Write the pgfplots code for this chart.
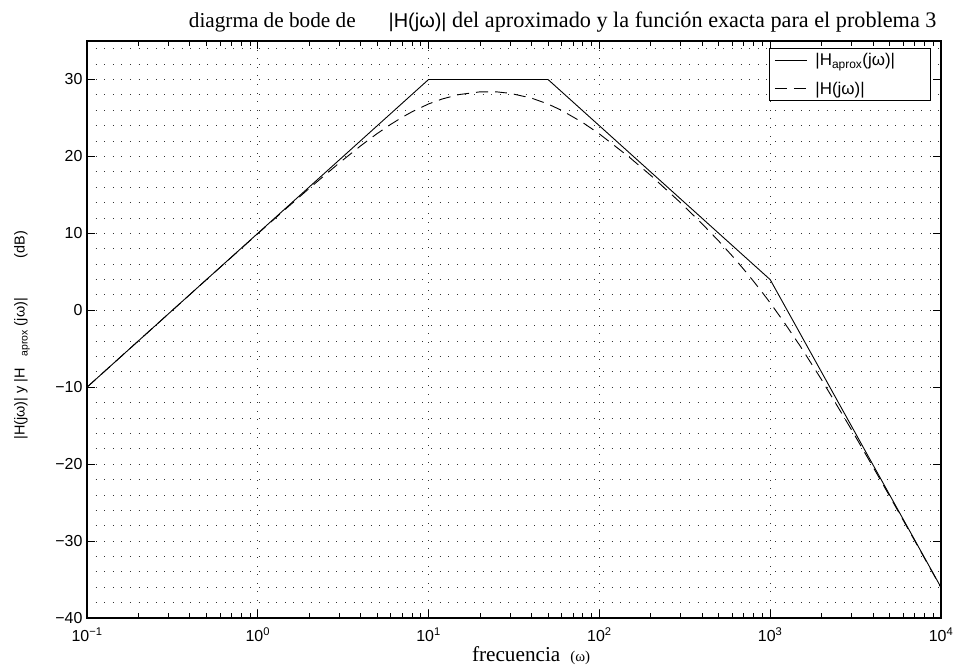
\documentclass[border=0pt]{standalone}
\usepackage{pgfplots}
\pgfplotsset{compat=1.18}
\usepackage{fontspec}
\setmainfont{Liberation Serif}
\setsansfont{Liberation Sans}

\begin{document}
\begin{tikzpicture}
\begin{axis}[
  at={(87bp,51bp)}, anchor=south west,
  scale only axis, width=854bp, height=577bp,
  xmode=log, log basis x=10,
  xmin=0.1, xmax=10000, ymin=-40, ymax=35,
  xtick={0.1,1,10,100,1000,10000},
  xticklabels={10\textsuperscript{−1},10\textsuperscript{0},10\textsuperscript{1},10\textsuperscript{2},10\textsuperscript{3},10\textsuperscript{4}},
  minor xtick={0.2,0.3,0.4,0.5,0.6,0.7,0.8,0.9,2,3,4,5,6,7,8,9,20,30,40,50,60,70,80,90,200,300,400,500,600,700,800,900,2000,3000,4000,5000,6000,7000,8000,9000},
  ytick={-40,-30,-20,-10,0,10,20,30},
  yticklabels={−40,−30,−20,−10,0,10,20,30},
  minor ytick={-38,-36,-34,-32,-28,-26,-24,-22,-18,-16,-14,-12,-8,-6,-4,-2,2,4,6,8,12,14,16,18,22,24,26,28,32,34},
  xmajorgrids=true, xminorgrids=false,
  ymajorgrids=true, yminorgrids=true,
  major grid style={draw=black!80, line width=0.8bp, dash pattern=on 0.8bp off 7.8bp},
  minor grid style={draw=black!80, line width=0.8bp, dash pattern=on 0.8bp off 7.8bp},
  minor y tick style={draw=none},
  tick align=inside,
  major tick length=8bp, minor tick length=5bp,
  tick style={black, line width=0.8bp},
  axis line style={line width=1.2bp},
  ticklabel style={font=\sffamily\fontsize{16}{18}\selectfont},
  xticklabel style={yshift=-6bp},
  yticklabel style={xshift=-1bp},
  title={{\fontsize{21.3}{24}\selectfont diagrma de bode de\hspace{33bp}{\sffamily\fontsize{20}{22}\selectfont |H(jω)|}{\fontsize{22.3}{24}\selectfont\ del aproximado y la función exacta para el problema 3}}},
  every axis title/.style={at={(0.557,1)}, anchor=south, inner sep=0pt, yshift=9bp},
  xlabel={{\fontsize{21.3}{24}\selectfont frecuencia\hspace{10bp}{\fontsize{15}{17}\selectfont (ω)}}},
  every axis x label/.style={at={(0.52,0)}, anchor=north, inner sep=0pt, yshift=-28bp},
  ylabel={{\sffamily\fontsize{14.5}{16}\selectfont |H(jω)| y |H\hspace{12bp}\raisebox{-3bp}{\fontsize{10.5}{12}\selectfont aprox}\hspace{4bp}(jω)|\hspace{40bp}(dB)}},
  every axis y label/.style={at={(-0.076,0.49)}, rotate=90, anchor=center, inner sep=0pt},
  legend style={at={(0.988,0.988)}, anchor=north east, draw=black, line width=0.8bp, fill=white,
    font=\sffamily\fontsize{17}{19}\selectfont, inner xsep=5bp, inner ysep=3bp, row sep=11bp},
  legend cell align=left,
  legend image code/.code={\draw[#1] (0bp,0bp) -- (32bp,0bp);},
]
\addplot[black, line width=0.9bp] coordinates {
  (0.1,-10) (10,30) (50,30) (1000,3.98) (10000,-36.02)
};
\addlegendentry{\makebox[114bp][l]{\hspace{6bp}|H\textsubscript{\fontsize{12}{12}\selectfont aprox}(jω)|}}
\addplot[black, line width=0.9bp, dash pattern=on 12bp off 7bp] coordinates {
  (0.1,-10.00) (0.2,-3.98) (0.5,3.97) (1,9.96) (1.5,13.42) (2,15.84) (3,19.15)
  (4,21.37) (5,22.97) (6,24.16) (7,25.08) (8,25.80) (10,26.82) (12,27.46)
  (15,28.03) (20,28.39) (25,28.39) (30,28.20) (40,27.58) (50,26.81) (60,25.99)
  (80,24.39) (100,22.92) (150,19.88) (200,17.52) (300,13.94) (400,11.22)
  (500,8.99) (600,7.05) (700,5.32) (800,3.75) (900,2.30) (1000,0.96)
  (1200,-1.49) (1500,-4.67) (2000,-9.03) (3000,-15.57) (4000,-20.37)
  (5000,-24.15) (7000,-29.91) (10000,-36.06)
};
\addlegendentry{\makebox[114bp][l]{\hspace{6bp}|H(jω)|}}
\end{axis}
\pgfresetboundingbox
\path[use as bounding box] (0bp,0bp) rectangle (955bp,669bp);
\end{tikzpicture}
\end{document}
